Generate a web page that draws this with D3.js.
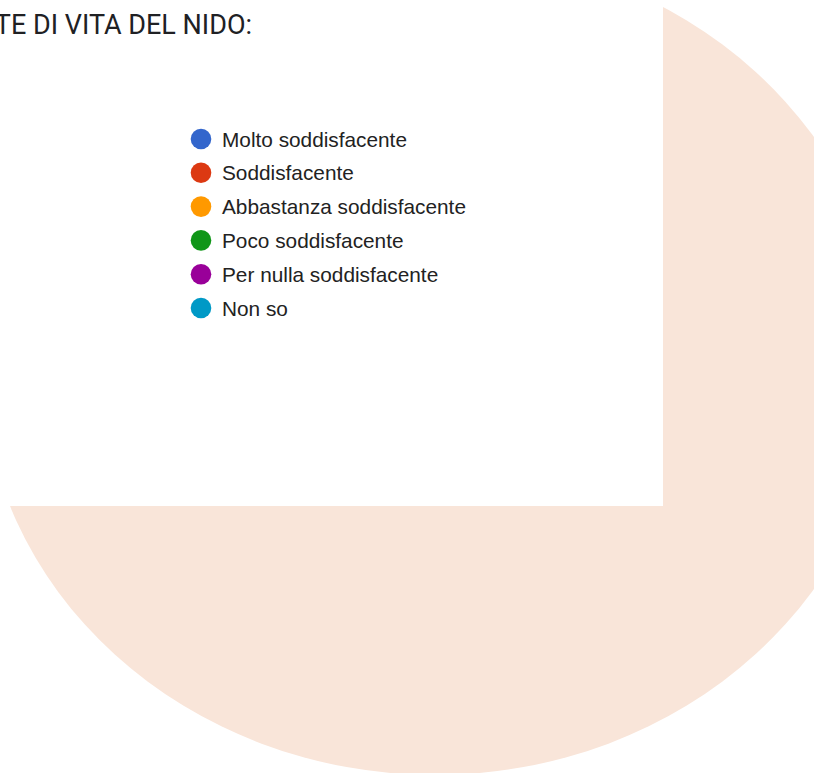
<!DOCTYPE html>
<html>
<head>
<meta charset="utf-8">
<script src="https://cdn.jsdelivr.net/npm/d3@7"></script>
<style>
    body { margin: 0; background: #fff; }
    svg { display: block; }
</style>
</head>
<body>
<div id="chart"></div>
<script>
const titleText = "TE DI VITA DEL NIDO:";
const categories = ["Molto soddisfacente", "Soddisfacente", "Abbastanza soddisfacente",
    "Poco soddisfacente", "Per nulla soddisfacente", "Non so"];
const colors = ["#3366cc", "#dc3912", "#ff9900", "#109618", "#990099", "#0099c6"];

const width = 814, height = 773;

let svg = d3.select("#chart")
    .append("svg")
    .attr("width", width)
    .attr("height", height);

// big peach backdrop, slightly wider than tall
svg.append("g")
    .attr("transform", "translate(435,363) scale(1.1,1)")
    .append("path")
    .attr("d", d3.arc()({innerRadius: 0, outerRadius: 412, startAngle: 0, endAngle: 2 * Math.PI}))
    .attr("fill", "#f9e5d9");

// white card over the top-left part
svg.append("rect")
    .attr("x", 0)
    .attr("y", 0)
    .attr("width", 663)
    .attr("height", 506)
    .attr("fill", "#fff");

// title, cut off on the left like the source
svg.append("text")
    .attr("x", 252)
    .attr("y", 34)
    .attr("text-anchor", "end")
    .attr("font-family", "Roboto, sans-serif")
    .attr("font-size", 27)
    .attr("fill", "#202124")
    .text(titleText);

// legend
let y = d3.scalePoint()
    .domain(categories)
    .range([139, 308]);

let color = d3.scaleOrdinal()
    .domain(categories)
    .range(colors);

let legend = svg.selectAll("g.item")
    .data(categories)
    .enter()
    .append("g")
    .attr("class", "item")
    .attr("transform", d => "translate(201," + y(d) + ")");

legend.append("circle")
    .attr("r", 10.3)
    .attr("fill", d => color(d));

legend.append("text")
    .attr("x", 21)
    .attr("dy", "0.36em")
    .attr("font-family", "'Liberation Sans', Arial, sans-serif")
    .attr("font-size", 20.8)
    .attr("fill", "#222")
    .text(d => d);
</script>
</body>
</html>
